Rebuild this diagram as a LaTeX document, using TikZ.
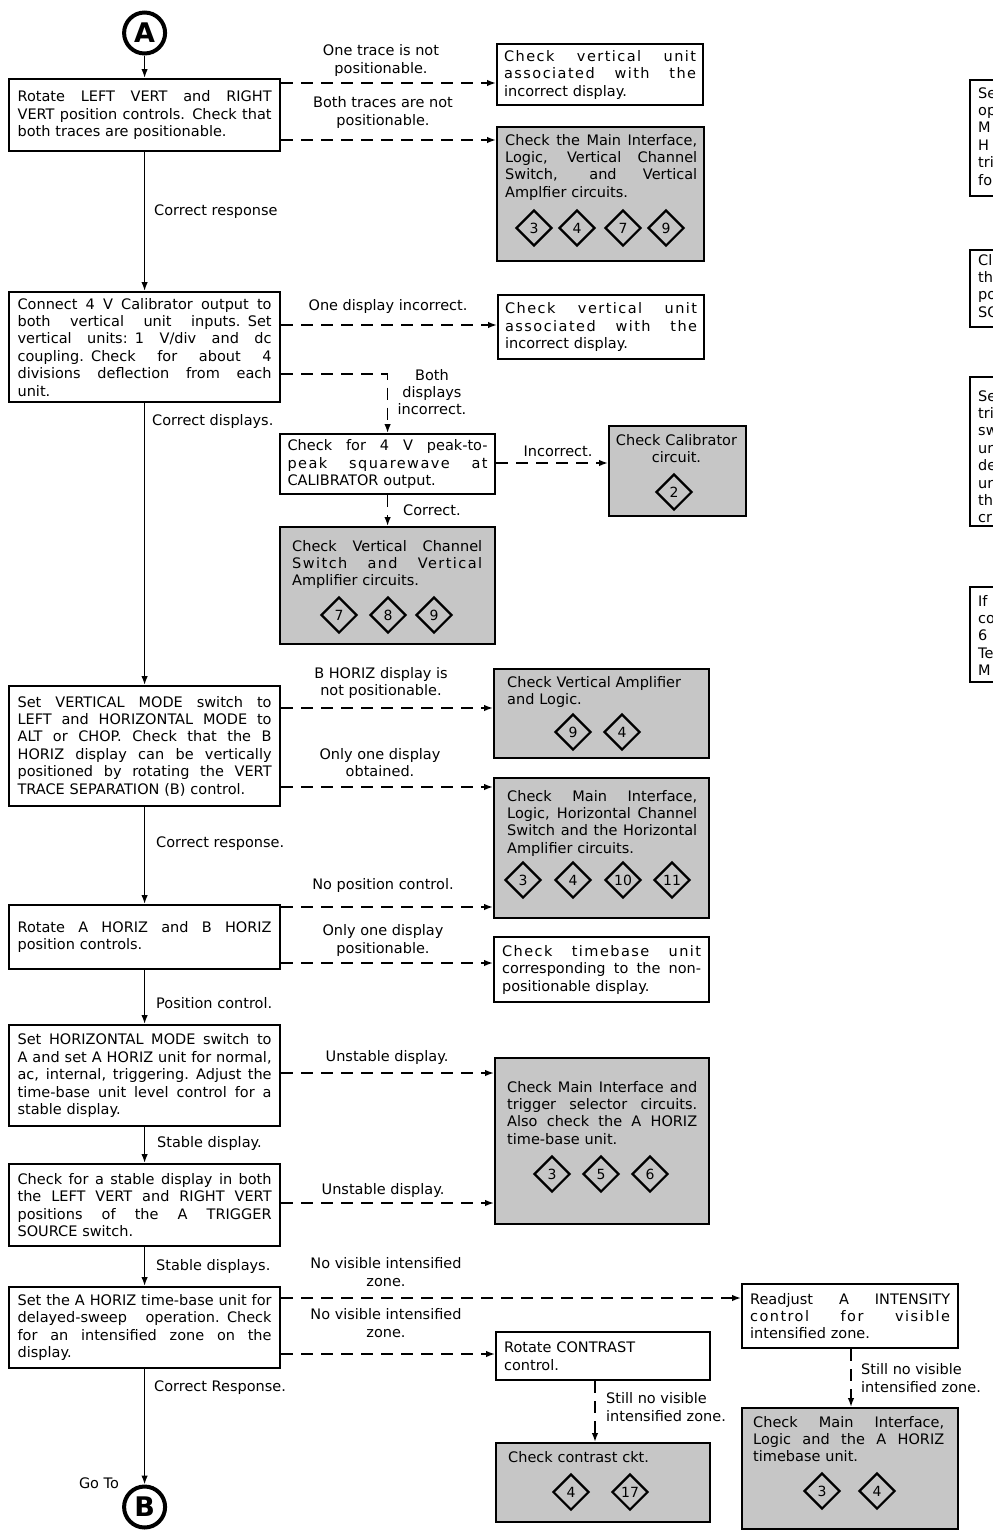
\documentclass[tikz,border=0pt]{standalone}
\usepackage{fontspec}
\setmainfont{DejaVu Sans}
\usetikzlibrary{arrows.meta,shapes.geometric}
\definecolor{boxgray}{RGB}{198,198,198}
\newcommand\boxfont{\fontsize{14.5}{17.4}\selectfont}
\newcommand\wide{\addfontfeature{LetterSpace=10}}
% one justified line: spaces stretch to the full text width
\newcommand\jl[1]{\leavevmode\hbox to\hsize{\spaceskip=\fontdimen2\font plus 1fil minus \fontdimen4\font\relax #1}}
\hbadness=10000 \hfuzz=4pt

\begin{document}
\begin{tikzpicture}[x=1pt,y=-1pt,
  act/.style={draw,line width=2.2pt,anchor=north west,minimum width=271pt,text width=254pt,
              inner xsep=8pt,inner ysep=3pt,align=left,font=\boxfont},
  note/.style={draw,line width=2.2pt,anchor=north west,inner xsep=7pt,inner ysep=3pt,align=left,font=\boxfont},
  shade/.style={draw,line width=2.2pt,fill=boxgray,anchor=north west},
  txt/.style={anchor=base west,inner sep=0pt,align=left,font=\boxfont},
  lbl/.style={inner sep=0pt,align=center,font=\boxfont},
  lbll/.style={lbl,anchor=west,align=left},
  dia/.style={diamond,draw,line width=2.2pt,minimum size=36pt,inner sep=0pt,font=\fontsize{14}{14}\selectfont},
  conn/.style={circle,draw,line width=4pt,minimum size=41pt,inner sep=0pt,font=\fontsize{27}{27}\selectfont\bfseries},
  go/.style={line width=1.5pt,-{Latex[length=9pt,width=6.5pt]}},
  nogo/.style={go,dash pattern=on 12pt off 8pt}]
  \useasboundingbox (0,0) rectangle (993,1534);

  % main column
  \node[act,minimum height=72pt] (b1) at (8,78)
    {\jl{Rotate LEFT VERT and RIGHT}\\ \jl{VERT position controls. Check that}\\ both traces are positionable.};
  \node[conn] (ca) at (b1.north |- 0,33) {A};
  \node[act,minimum height=110pt] (b2) at (8,291)
    {\jl{Connect 4 V Calibrator output to}\\ \jl{both vertical unit inputs. Set}\\ \jl{vertical units: 1 V/div and dc}\\
     \jl{coupling. Check for about 4}\\ \jl{divisions deflection from each}\\ unit.};
  \node[act,minimum height=120pt] (b5) at (8,685)
    {\jl{Set VERTICAL MODE switch to}\\ \jl{LEFT and HORIZONTAL MODE to}\\ \jl{ALT or CHOP. Check that the B}\\
     \jl{HORIZ display can be vertically}\\ \jl{positioned by rotating the VERT}\\ TRACE SEPARATION (B) control.};
  \node[act,minimum height=64pt] (b6) at (8,904)
    {\jl{Rotate A HORIZ and B HORIZ}\\ position controls.};
  \node[act,minimum height=101pt] (b7) at (8,1024)
    {\jl{Set HORIZONTAL MODE switch to}\\ \jl{A and set A HORIZ unit for normal,}\\ \jl{ac, internal, triggering. Adjust the}\\
     \jl{time-base unit level control for a}\\ stable display.};
  \node[act,minimum height=82pt] (b8) at (8,1163)
    {\jl{Check for a stable display in both}\\ \jl{the LEFT VERT and RIGHT VERT}\\ \jl{positions of the A TRIGGER}\\ SOURCE switch.};
  \node[act,minimum height=81pt] (b9) at (8,1286)
    {\jl{Set the A HORIZ time-base unit for}\\ \jl{delayed-sweep operation. Check}\\ \jl{for an intensified zone on the}\\ display.};
  \node[conn] (cb) at (b9.south |- 0,1507) {B};
  \node[lbl] (goto) at (99,1483) {Go To};

  % right column
  \node[note,minimum width=206pt,minimum height=61pt,text width=192pt] (r1) at (496,43)
    {\jl{\wide Check vertical unit}\\ \jl{\wide associated with the}\\ incorrect display.};
  \node[shade,minimum width=207pt,minimum height=134pt] (r2) at (496,126) {};
  \node[txt,text width=192pt] (r2t) at (505,145)
    {\jl{Check the Main Interface,}\\ \jl{Logic, Vertical Channel}\\ \jl{Switch, and Vertical}\\ Amplfier circuits.};
  \foreach \n/\x in {3/534,4/577,7/623,9/666} \node[dia] (r2d\n) at (\x,228) {\n};
  \node[note,minimum width=206pt,minimum height=64pt,text width=192pt] (r3) at (497,294)
    {\jl{\wide Check vertical unit}\\ \jl{\wide associated with the}\\ incorrect display.};
  \node[note,minimum width=215pt,minimum height=60pt,text width=200pt] (b3) at (279,433)
    {\jl{Check for 4 V peak-to-}\\ \jl{\wide peak squarewave at}\\ CALIBRATOR output.};
  \node[shade,minimum width=137pt,minimum height=90pt] (cal) at (608,425) {};
  \node[lbl,anchor=base,text width=125pt] (calt) at (676.5,445) {Check Calibrator\\circuit.};
  \node[dia] (cald2) at (674,492) {2};
  \node[shade,minimum width=215pt,minimum height=117pt] (b4) at (279,526) {};
  \node[txt,text width=190pt] (b4t) at (292,551)
    {\jl{Check Vertical Channel}\\ \jl{\wide Switch and Vertical}\\ Amplifier circuits.};
  \foreach \n/\x in {7/339,8/388,9/434} \node[dia] (b4d\n) at (\x,615) {\n};
  \node[shade,minimum width=215pt,minimum height=89pt] (r5) at (493,668) {};
  \node[txt,text width=190pt] (r5t) at (507,687) {Check Vertical Amplifier\\and Logic.};
  \foreach \n/\x in {9/573,4/622} \node[dia] (r5d\n) at (\x,732) {\n};
  \node[shade,minimum width=215pt,minimum height=140pt] (r6) at (493,777) {};
  \node[txt,text width=190pt] (r6t) at (507,801)
    {\jl{Check Main Interface,}\\ \jl{Logic, Horizontal Channel}\\ \jl{Switch and the Horizontal}\\ Amplifier circuits.};
  \foreach \n/\x in {3/523,4/573,10/623,11/672} \node[dia] (r6d\n) at (\x,880) {\n};
  \node[note,minimum width=215pt,minimum height=65pt,text width=199pt] (r7) at (493,936)
    {\jl{\wide Check timebase unit}\\ \jl{corresponding to the non-}\\ positionable display.};
  \node[shade,minimum width=214pt,minimum height=166pt] (r8) at (494,1057) {};
  \node[txt,text width=190pt] (r8t) at (507,1092)
    {\jl{Check Main Interface and}\\ \jl{trigger selector circuits.}\\ \jl{Also check the A HORIZ}\\ time-base unit.};
  \foreach \n/\x in {3/552,5/601,6/650} \node[dia] (r8d\n) at (\x,1174) {\n};
  \node[note,minimum width=216pt,minimum height=64pt,text width=200pt] (r9) at (741,1283)
    {\jl{Readjust A INTENSITY}\\ \jl{\wide control for visible}\\ intensified zone.};
  \node[note,minimum width=214pt,minimum height=48pt,text width=198pt] (r10) at (495,1331)
    {Rotate CONTRAST\\control.};
  \node[shade,minimum width=214pt,minimum height=79pt] (r11) at (495,1442) {};
  \node[txt,text width=190pt] (r11t) at (508,1462) {Check contrast ckt.};
  \foreach \n/\x in {4/571,17/630} \node[dia] (r11d\n) at (\x,1492) {\n};
  \node[shade,minimum width=216pt,minimum height=121pt] (r12) at (741,1407) {};
  \node[txt,text width=191pt] (r12t) at (753,1427)
    {\jl{Check Main Interface,}\\ \jl{Logic and the A HORIZ}\\ timebase unit.};
  \foreach \n/\x in {3/822,4/877} \node[dia] (r12d\n) at (\x,1491) {\n};

  % boxes cut off at the page edge
  \begin{scope}
    \clip (0,0) rectangle (993,1534);
    \draw[line width=2.2pt] (1030,80) -| (970,196) -- (1030,196);
    \draw[line width=2.2pt] (1030,250) -| (970,327) -- (1030,327);
    \draw[line width=2.2pt] (1030,377) -| (970,526) -- (1030,526);
    \draw[line width=2.2pt] (1030,587) -| (970,682) -- (1030,682);
    \node[txt,text width=30pt] (p1) at (978,98) {Se\\op\\M\\H\\tri\\fo};
    \node[txt,text width=30pt] (p2) at (978,265) {Cl\\th\\po\\SO};
    \node[txt,text width=30pt] (p3) at (978,401) {Se\\tri\\sw\\un\\de\\un\\th\\cr};
    \node[txt,text width=30pt] (p4) at (978,606) {If\\co\\6\\Te\\M};
  \end{scope}

  % yes path
  \draw[go] (ca) -- (b1);
  \draw[go] (b1) -- (b2);
  \draw[go] (b2) -- (b5);
  \draw[go] (b5) -- (b6);
  \draw[go] (b6) -- (b7);
  \draw[go] (b7) -- (b8);
  \draw[go] (b8) -- (b9);
  \draw[go] (b9) -- (cb);
  \node[lbll] (l1) at (154,212) {Correct response};
  \node[lbll] (l2) at (152,421) {Correct displays.};
  \node[lbll] (l3) at (156,844) {Correct response.};
  \node[lbll] (l4) at (156,1003) {Position control.};
  \node[lbll] (l5) at (157,1143) {Stable display.};
  \node[lbll] (l6) at (156,1266) {Stable displays.};
  \node[lbll] (l7) at (154,1388) {Correct Response.};

  % no paths
  \draw[nogo] (b1.east |- 0,83) -- (r1.west |- 0,83);
  \node[lbl] (n1) at (381,60.5) {One trace is not\\positionable.};
  \draw[nogo] (b1.east |- 0,140) -- (r2.west |- 0,140);
  \node[lbl] (n2) at (383,112.5) {Both traces are not\\positionable.};
  \draw[nogo] (b2.east |- 0,325) -- (r3.west |- 0,325);
  \node[lbl] (n3) at (388,306) {One display incorrect.};
  \draw[nogo] (b2.east |- 0,374) -| (b3.north);
  \node[lbl] (n4) at (432,392) {Both\\displays\\incorrect.};
  \draw[nogo] (b3.east |- 0,463) -- (cal.west |- 0,463);
  \node[lbl] (n5) at (558,451) {Incorrect.};
  \draw[nogo] (b3) -- (b4);
  \node[lbll] (n6) at (403,510) {Correct.};
  \draw[nogo] (b5.east |- 0,708) -- (r5.west |- 0,708);
  \node[lbl] (n7) at (381,683) {B HORIZ display is\\not positionable.};
  \draw[nogo] (b5.east |- 0,787) -- (r6.west |- 0,787);
  \node[lbl] (n8) at (380,762.5) {Only one display\\obtained.};
  \draw[nogo] (b6.east |- 0,907) -- (r6.west |- 0,907);
  \node[lbl] (n9) at (383,885) {No position control.};
  \draw[nogo] (b6.east |- 0,963) -- (r7.west |- 0,963);
  \node[lbl] (n10) at (383,940.5) {Only one display\\positionable.};
  \draw[nogo] (b7.east |- 0,1073) -- (r8.west |- 0,1073);
  \node[lbl] (n11) at (387,1057) {Unstable display.};
  \draw[nogo] (b8.east |- 0,1203) -- (r8.west |- 0,1203);
  \node[lbl] (n12) at (383,1190) {Unstable display.};
  \draw[nogo] (b9.east |- 0,1298) -- (r9.west |- 0,1298);
  \node[lbl] (n13) at (386,1272) {No visible intensified\\zone.};
  \draw[nogo] (b9.east |- 0,1354) -- (r10.west |- 0,1354);
  \node[lbl] (n14) at (386,1323) {No visible intensified\\zone.};
  \draw[nogo] (r10.south -| 595,0) -- (r11.north -| 595,0);
  \node[lbll] (n15) at (606,1407) {Still no visible\\intensified zone.};
  \draw[nogo] (r9.south -| 851,0) -- (r12.north -| 851,0);
  \node[lbll] (n16) at (861,1378) {Still no visible\\intensified zone.};
\end{tikzpicture}
\end{document}
